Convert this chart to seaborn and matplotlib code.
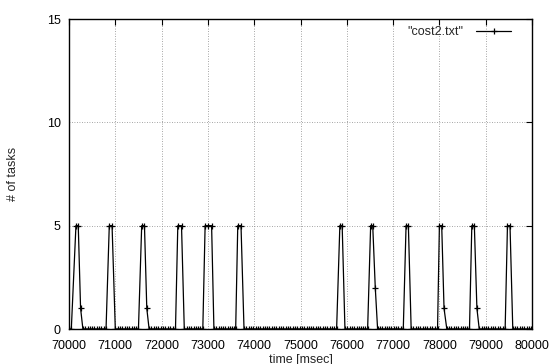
import matplotlib
matplotlib.use("Agg")
import matplotlib.pyplot as plt
import seaborn as sns
import pandas as pd

# sample times (msec) and number of tasks
time_ms = [
    70000, 70050, 70150, 70200, 70250, 70300,
    70350, 70400, 70450, 70500, 70550, 70600, 70650, 70700, 70750,
    70800, 70870, 70930, 71000,
    71050, 71100, 71150, 71200, 71250, 71300, 71350, 71400, 71450,
    71500, 71570, 71630, 71680, 71730,
    71780, 71830, 71880, 71930, 71980, 72030, 72080, 72130, 72180, 72240,
    72300, 72350, 72430, 72490,
    72540, 72590, 72640, 72690, 72740, 72790, 72840,
    72890, 72940, 73000, 73080, 73130,
    73180, 73230, 73280, 73330, 73380, 73430, 73480, 73530, 73560,
    73600, 73645, 73715, 73780,
    73830, 73880, 73930, 73980, 74030, 74080, 74130, 74180, 74230, 74280,
    74330, 74380, 74430, 74480, 74530, 74580, 74630, 74680, 74730, 74780,
    74830, 74880, 74930, 74980, 75030, 75080, 75130, 75180, 75230, 75280,
    75330, 75380, 75430, 75480, 75530, 75580, 75630, 75680, 75730,
    75780, 75850, 75900, 75960,
    76010, 76060, 76110, 76160, 76210, 76260, 76310, 76360, 76400,
    76450, 76515, 76560, 76615, 76665,
    76715, 76765, 76815, 76865, 76915, 76965, 77015, 77065, 77115, 77170,
    77220, 77280, 77330, 77390,
    77440, 77490, 77540, 77590, 77640, 77690, 77740, 77790, 77840, 77910,
    77960, 78000, 78050, 78100, 78160,
    78210, 78260, 78310, 78360, 78410, 78460, 78510, 78560, 78600,
    78650, 78700, 78755, 78810, 78860,
    78910, 78960, 79010, 79060, 79110, 79160, 79210, 79260, 79310, 79370,
    79420, 79470, 79525, 79585,
    79635, 79685, 79735, 79785, 79835, 79885, 79935, 79985,
]
tasks = [
    0, 0, 5, 5, 1, 0,
    0, 0, 0, 0, 0, 0, 0, 0, 0,
    0, 5, 5, 0,
    0, 0, 0, 0, 0, 0, 0, 0, 0,
    0, 5, 5, 1, 0,
    0, 0, 0, 0, 0, 0, 0, 0, 0, 0,
    0, 5, 5, 0,
    0, 0, 0, 0, 0, 0, 0,
    0, 5, 5, 5, 0,
    0, 0, 0, 0, 0, 0, 0, 0, 0,
    0, 5, 5, 0,
    0, 0, 0, 0, 0, 0, 0, 0, 0, 0,
    0, 0, 0, 0, 0, 0, 0, 0, 0, 0,
    0, 0, 0, 0, 0, 0, 0, 0, 0, 0,
    0, 0, 0, 0, 0, 0, 0, 0, 0,
    0, 5, 5, 0,
    0, 0, 0, 0, 0, 0, 0, 0, 0,
    0, 5, 5, 2, 0,
    0, 0, 0, 0, 0, 0, 0, 0, 0, 0,
    0, 5, 5, 0,
    0, 0, 0, 0, 0, 0, 0, 0, 0, 0,
    0, 5, 5, 1, 0,
    0, 0, 0, 0, 0, 0, 0, 0, 0,
    0, 5, 5, 1, 0,
    0, 0, 0, 0, 0, 0, 0, 0, 0, 0,
    0, 5, 5, 0,
    0, 0, 0, 0, 0, 0, 0, 0,
]
x_ticks = list(range(70000, 80001, 1000))
y_ticks = [0, 5, 10, 15]
series_label = '"cost2.txt"'

df = pd.DataFrame({"time": time_ms, "tasks": tasks})

sns.set_theme(style="white")
plt.rcParams["font.family"] = ["Liberation Sans", "DejaVu Sans"]

fig = plt.figure(figsize=(5.58, 3.64), dpi=100)
ax = fig.add_axes([69 / 558, 1 - 329 / 364, (532 - 69) / 558, (329 - 19) / 364])

sns.lineplot(data=df, x="time", y="tasks", ax=ax, color="black",
             linewidth=0.9, marker="+", markersize=4.5, markeredgewidth=0.9,
             markeredgecolor="black", estimator=None, sort=False,
             label=series_label)

ax.set_xlim(70000, 80000)
ax.set_ylim(0, 15)
ax.set_xticks(x_ticks)
ax.set_yticks(y_ticks)
ax.set_xticklabels([str(t) for t in x_ticks])
ax.grid(True, color="#888888", linestyle=(0, (1, 2)), linewidth=0.6)
ax.tick_params(axis="both", direction="in", length=4, width=0.8,
               top=True, right=True, labelsize=9, colors="black")
ax.tick_params(axis="x", pad=8)
ax.tick_params(axis="y", pad=6)
for s in ax.spines.values():
    s.set_color("black")
    s.set_linewidth(1.0)

ax.set_xlabel("time [msec]", fontsize=9, labelpad=1)
ax.set_ylabel("# of tasks", fontsize=9, labelpad=20)

leg = ax.legend(loc="upper right", bbox_to_anchor=(0.970, 1.0), frameon=False,
                fontsize=9, markerfirst=False, handlelength=2.8,
                handletextpad=1.0, borderaxespad=0.35, borderpad=0.2)

fig.savefig("out.png", dpi=100)
